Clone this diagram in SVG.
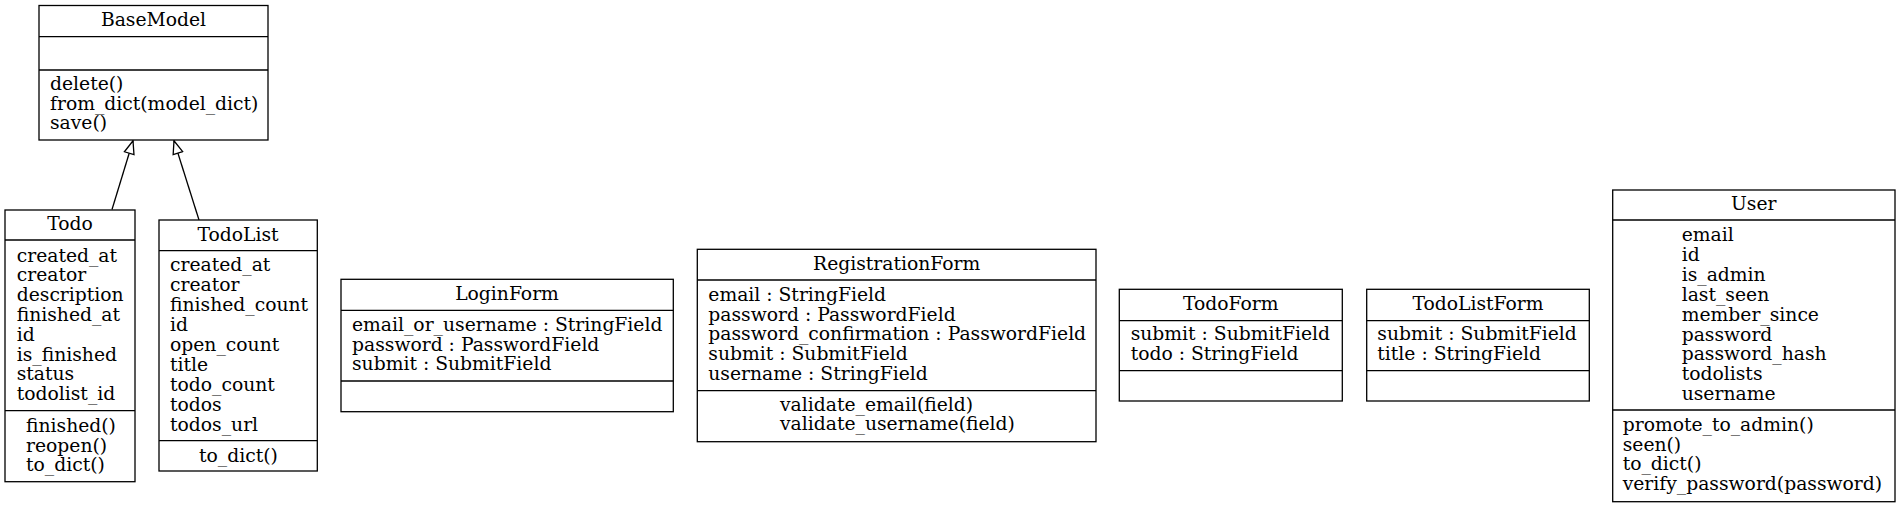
<svg xmlns="http://www.w3.org/2000/svg" width="1901" height="508" viewBox="0 0 1901 508">
<style>
.box{fill:#fff;stroke:#000;stroke-width:1.3}
.sep{stroke:#000;stroke-width:1.3}
text{font-family:"DejaVu Serif","Liberation Serif",serif;font-size:18.74px;fill:#000}
.t{text-anchor:middle}
.edge{fill:none;stroke:#000;stroke-width:1.3}
</style>
<defs>
<marker id="inh" markerUnits="userSpaceOnUse" markerWidth="16" markerHeight="14" refX="14" refY="6" orient="auto">
<path d="M1,1 L14,6 L1,11 Z" fill="#fff" stroke="#000" stroke-width="1.3"/>
</marker>
</defs>
<rect width="1901" height="508" fill="#fff"/>
<g id="connectors">
<path class="edge" d="M112,209.5 L133,140.8" marker-end="url(#inh)"/>
<path class="edge" d="M199,220 L174,140.8" marker-end="url(#inh)"/>
</g>
<g id="BaseModel">
<rect class="box" x="39" y="5.5" width="229" height="134.5"/>
<line class="sep" x1="39" y1="36.7" x2="268" y2="36.7"/>
<line class="sep" x1="39" y1="70" x2="268" y2="70"/>
<text class="t" x="153.5" y="26">BaseModel</text>
<text x="50" y="90">delete()</text>
<text x="50" y="109.7">from_dict(model_dict)</text>
<text x="50" y="129.4">save()</text>
</g>
<g id="Todo">
<rect class="box" x="5" y="210" width="130" height="271.7"/>
<line class="sep" x1="5" y1="240" x2="135" y2="240"/>
<line class="sep" x1="5" y1="410.7" x2="135" y2="410.7"/>
<text class="t" x="70" y="230">Todo</text>
<text x="16.7" y="261.6">created_at</text>
<text x="16.7" y="281.4">creator</text>
<text x="16.7" y="301.2">description</text>
<text x="16.7" y="321">finished_at</text>
<text x="16.7" y="340.8">id</text>
<text x="16.7" y="360.6">is_finished</text>
<text x="16.7" y="380.4">status</text>
<text x="16.7" y="400.2">todolist_id</text>
<text x="26" y="431.7">finished()</text>
<text x="26" y="451.5">reopen()</text>
<text x="26" y="471.3">to_dict()</text>
</g>
<g id="TodoList">
<rect class="box" x="159" y="220" width="158.3" height="251"/>
<line class="sep" x1="159" y1="250.7" x2="317.3" y2="250.7"/>
<line class="sep" x1="159" y1="440.7" x2="317.3" y2="440.7"/>
<text class="t" x="238" y="240.5">TodoList</text>
<text x="170" y="271.3">created_at</text>
<text x="170" y="291.2">creator</text>
<text x="170" y="311.1">finished_count</text>
<text x="170" y="331">id</text>
<text x="170" y="350.9">open_count</text>
<text x="170" y="370.8">title</text>
<text x="170" y="390.7">todo_count</text>
<text x="170" y="410.6">todos</text>
<text x="170" y="430.5">todos_url</text>
<text x="199" y="461.7">to_dict()</text>
</g>
<g id="LoginForm">
<rect class="box" x="341" y="279.3" width="332.3" height="132.4"/>
<line class="sep" x1="341" y1="310.3" x2="673.3" y2="310.3"/>
<line class="sep" x1="341" y1="381" x2="673.3" y2="381"/>
<text class="t" x="507" y="300">LoginForm</text>
<text x="352" y="330.7">email_or_username : StringField</text>
<text x="352" y="350.5">password : PasswordField</text>
<text x="352" y="370.3">submit : SubmitField</text>
</g>
<g id="RegistrationForm">
<rect class="box" x="697.3" y="249.3" width="398.7" height="192.4"/>
<line class="sep" x1="697.3" y1="280" x2="1096" y2="280"/>
<line class="sep" x1="697.3" y1="390.7" x2="1096" y2="390.7"/>
<text class="t" x="896.7" y="270">RegistrationForm</text>
<text x="708.3" y="300.8">email : StringField</text>
<text x="708.3" y="320.5">password : PasswordField</text>
<text x="708.3" y="340.2">password_confirmation : PasswordField</text>
<text x="708.3" y="359.9">submit : SubmitField</text>
<text x="708.3" y="379.6">username : StringField</text>
<text x="780" y="410.5">validate_email(field)</text>
<text x="780" y="430.3">validate_username(field)</text>
</g>
<g id="TodoForm">
<rect class="box" x="1119.3" y="289.3" width="223" height="111.7"/>
<line class="sep" x1="1119.3" y1="320.7" x2="1342.3" y2="320.7"/>
<line class="sep" x1="1119.3" y1="370.7" x2="1342.3" y2="370.7"/>
<text class="t" x="1230.8" y="309.5">TodoForm</text>
<text x="1130.7" y="340">submit : SubmitField</text>
<text x="1130.7" y="359.8">todo : StringField</text>
</g>
<g id="TodoListForm">
<rect class="box" x="1366.7" y="289.3" width="222.6" height="111.7"/>
<line class="sep" x1="1366.7" y1="320.7" x2="1589.3" y2="320.7"/>
<line class="sep" x1="1366.7" y1="370.7" x2="1589.3" y2="370.7"/>
<text class="t" x="1478" y="309.5">TodoListForm</text>
<text x="1377.3" y="340">submit : SubmitField</text>
<text x="1377.3" y="359.8">title : StringField</text>
</g>
<g id="User">
<rect class="box" x="1612.7" y="190" width="282.3" height="311.7"/>
<line class="sep" x1="1612.7" y1="220" x2="1895" y2="220"/>
<line class="sep" x1="1612.7" y1="410" x2="1895" y2="410"/>
<text class="t" x="1753.8" y="209.5">User</text>
<text x="1681.7" y="241">email</text>
<text x="1681.7" y="260.9">id</text>
<text x="1681.7" y="280.8">is_admin</text>
<text x="1681.7" y="300.7">last_seen</text>
<text x="1681.7" y="320.6">member_since</text>
<text x="1681.7" y="340.5">password</text>
<text x="1681.7" y="360.4">password_hash</text>
<text x="1681.7" y="380.3">todolists</text>
<text x="1681.7" y="400.2">username</text>
<text x="1622.7" y="430.7">promote_to_admin()</text>
<text x="1622.7" y="450.5">seen()</text>
<text x="1622.7" y="470.3">to_dict()</text>
<text x="1622.7" y="490.1">verify_password(password)</text>
</g>
</svg>
